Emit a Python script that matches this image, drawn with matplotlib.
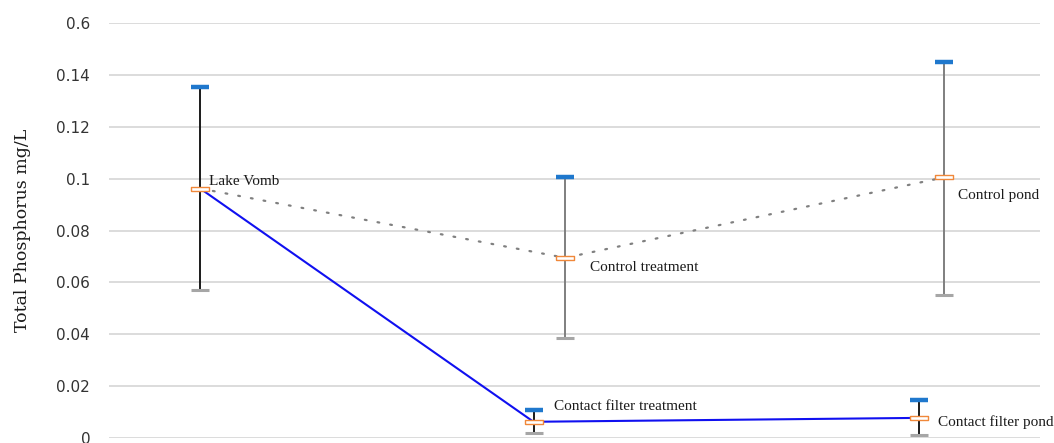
import numpy as np
import matplotlib.pyplot as plt
from matplotlib.path import Path

# sites and x positions along the chart
sites = ["Lake Vomb", "Control treatment", "Control pond",
         "Contact filter treatment", "Contact filter pond"]
xpos = [0.098, 0.490, 0.897, 0.456, 0.870]
mean_tp = [0.0962, 0.0695, 0.1005, 0.0063, 0.0078]
high_tp = [0.1352, 0.1006, 0.1451, 0.0108, 0.0147]
low_tp = [0.0570, 0.0385, 0.0553, 0.0018, 0.0012]

control_path = [0, 1, 2]
filter_path = [0, 3, 4]

yticks = [0, 0.02, 0.04, 0.06, 0.08, 0.1, 0.12, 0.14, 0.16]
ytick_labels = ["0", "0.02", "0.04", "0.06", "0.08", "0.1", "0.12", "0.14", "0.6"]

fig = plt.figure(figsize=(10.54, 4.43), dpi=100)
ax = fig.add_axes([0.1034, 0.011, 0.8833, 0.937])

ax.set_xlim(0, 1)
ax.set_ylim(0, 0.16)
ax.set_yticks(yticks)
ax.set_yticklabels(ytick_labels, family="DejaVu Sans", fontsize=11, color="#333333")
ax.set_xticks([])
ax.tick_params(axis="y", length=0, pad=13.5)
for s in ax.spines.values():
    s.set_visible(False)
ax.yaxis.grid(True, color="#d9d9d9", lw=1.3)
ax.set_axisbelow(True)
ax.set_ylabel("Total Phosphorus mg/L", family="DejaVu Serif", fontsize=12.5,
              color="#1a1a1a", va="center")
ax.yaxis.set_label_coords(-0.0924, 0.5)

x = np.array(xpos)
m = np.array(mean_tp)

# connecting lines
ax.plot(x[control_path], m[control_path], color="#808080", lw=1.6,
        ls=(0, (0.8, 5)), dash_capstyle="round", zorder=2)
ax.plot(x[filter_path], m[filter_path], color="#1010f0", lw=1.5, zorder=3)

# whiskers
wcol = ["#1a1a1a", "#7f7f7f", "#7f7f7f", "#1a1a1a", "#1a1a1a"]
ax.vlines(x, low_tp, high_tp, colors=wcol, lw=1.4, zorder=2)
ax.plot(x, high_tp, ls="none", marker="_", ms=13, mew=3.2, color="#1f78cd", zorder=4)
ax.plot(x, low_tp, ls="none", marker="_", ms=13, mew=2.2, color="#a6a6a6", zorder=4)

rect = Path([(-1, -0.22), (1, -0.22), (1, 0.22), (-1, 0.22), (-1, -0.22)])
ax.plot(x, m, ls="none", marker=rect, ms=13, mfc="white", mec="#f0883a",
        mew=1.0, zorder=5)

# labels next to the points
offsets = [(6, 5), (18, -7), (10, -13), (15, 11), (14, -3)]
for i, name in enumerate(sites):
    ax.annotate(name, (x[i], m[i]), xytext=offsets[i], textcoords="offset points",
                family="Liberation Serif", fontsize=11, color="#1a1a1a",
                va="center", ha="left")

plt.savefig("out.png", dpi=100)
